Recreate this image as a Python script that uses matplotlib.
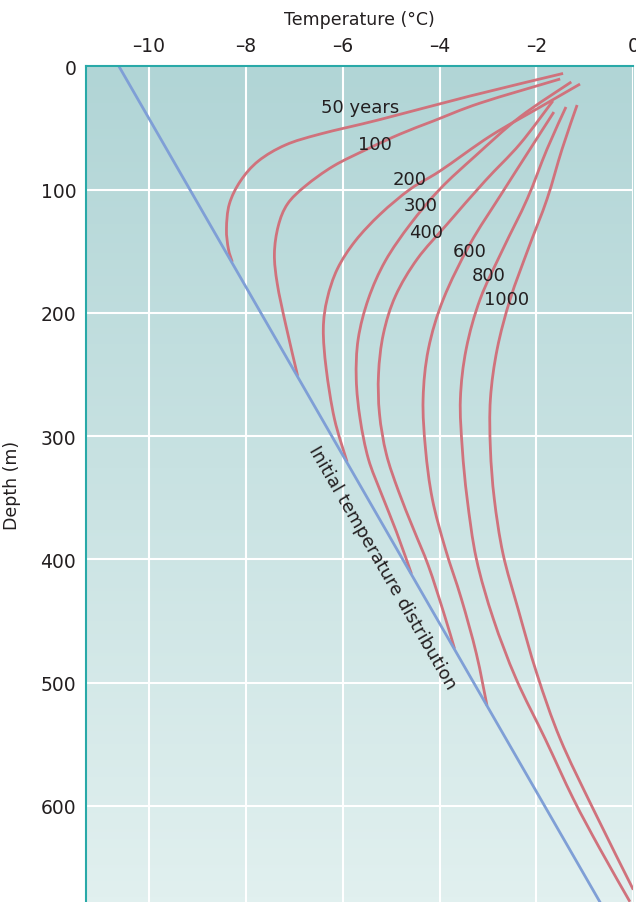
#!/usr/bin/env python3
#
# Temperature-depth profiles after surface warming
#
import numpy as np
import matplotlib.pyplot as plt
from matplotlib.colors import LinearSegmentedColormap
from matplotlib.path import Path
from matplotlib.patches import PathPatch

# Initial (undisturbed) temperature distribution: straight line
init_temp = [-10.62, -0.66]
init_depth = [0, 680]

# Axis ticks
xticks = [-10, -8, -6, -4, -2, 0]
yticks = [0, 100, 200, 300, 400, 500, 600]

# Profiles after N years (temperature in C, depth in m)
years = ['50 years', '100', '200', '300', '400', '600', '800', '1000']

temp_50 = [-1.45, -3.37, -5.22, -6.46, -7.18, -7.74, -8.11, -8.34, -8.40,
           -8.36, -8.28]
depth_50 = [5.8, 24.1, 43.1, 54.9, 63.8, 76.8, 93.0, 111.7, 132.0, 148.2,
            158.7]

temp_100 = [-1.51, -3.16, -4.13, -4.81, -5.49, -6.19, -6.77, -7.14, -7.33,
            -7.41, -7.35, -7.18, -6.93]
depth_100 = [10.3, 29.8, 44.4, 54.9, 67.1, 80.9, 97.1, 111.7, 129.5, 152.2,
             176.6, 209.0, 251.2]

temp_200 = [-1.10, -1.92, -2.95, -3.99, -4.60, -5.22, -5.74, -6.11, -6.32,
            -6.40, -6.34, -6.17, -5.91]
depth_200 = [14.4, 33.0, 56.5, 84.9, 99.5, 119.8, 141.7, 164.4, 188.7,
             213.1, 245.5, 286.1, 320.9]

temp_300 = [-1.28, -2.34, -3.26, -3.99, -4.60, -5.12, -5.47, -5.68, -5.72,
            -5.64, -5.47, -5.20, -4.89, -4.58]
depth_300 = [12.7, 41.1, 72.7, 99.5, 127.9, 157.9, 188.7, 221.2, 253.6,
             286.1, 318.5, 346.9, 377.7, 411.8]

temp_400 = [-1.66, -2.34, -3.06, -3.84, -4.46, -4.91, -5.16, -5.26, -5.24,
            -5.10, -4.85, -4.54, -4.23, -3.92, -3.69]
depth_400 = [28.1, 63.0, 93.0, 127.9, 156.3, 186.3, 217.1, 249.6, 282.0,
             314.4, 344.4, 375.3, 405.3, 442.6, 472.6]

temp_600 = [-1.64, -2.13, -2.75, -3.37, -3.92, -4.23, -4.34, -4.29, -4.15,
            -3.88, -3.55, -3.24, -3.02]
depth_600 = [37.1, 67.1, 105.2, 144.1, 188.7, 229.3, 269.8, 310.4, 350.9,
             391.5, 432.0, 476.6, 518.8]

temp_800 = [-1.39, -1.78, -2.19, -2.69, -3.16, -3.45, -3.57, -3.53, -3.43,
            -3.24, -2.89, -2.42, -1.82, -1.24, -0.69, -0.07]
depth_800 = [33.0, 67.1, 107.6, 148.2, 188.7, 229.3, 269.8, 310.4, 350.9,
             399.6, 448.3, 496.9, 545.6, 594.2, 634.8, 677.8]

temp_1000 = [-1.16, -1.47, -1.78, -2.17, -2.54, -2.81, -2.95, -2.95, -2.87,
             -2.69, -2.38, -1.99, -1.51, -0.83, 0.0]
depth_1000 = [31.4, 67.1, 107.6, 148.2, 188.7, 229.3, 269.8, 310.4, 350.9,
              395.5, 440.1, 492.9, 545.6, 602.4, 668.0]

# Label positions (temperature, depth)
label_temp = [-5.64, -5.33, -4.61, -4.40, -4.28, -3.37, -2.99, -2.61]
label_depth = [33.0, 63.0, 91.4, 112.5, 134.4, 149.6, 169.3, 188.7]

profiles = [(temp_50, depth_50), (temp_100, depth_100),
            (temp_200, depth_200), (temp_300, depth_300),
            (temp_400, depth_400), (temp_600, depth_600),
            (temp_800, depth_800), (temp_1000, depth_1000)]

red = '#d0727c'
blue = '#7f9fd6'
teal = '#29a9a8'
ink = '#231f20'

plt.rcParams['font.family'] = ['DejaVu Sans']


def smooth_path(x, y):
    """ Smooth (Catmull-Rom style) Bezier path through the read points """
    p = np.column_stack([x, y])
    ext = np.vstack([p[0], p, p[-1]])
    verts = [p[0]]
    codes = [Path.MOVETO]
    for i in range(1, len(ext) - 2):
        p0, p1, p2, p3 = ext[i - 1], ext[i], ext[i + 1], ext[i + 2]
        verts += [p1 + (p2 - p0) / 6, p2 - (p3 - p1) / 6, p2]
        codes += [Path.CURVE4] * 3
    return Path(verts, codes)


#
# Create figure
#
fig = plt.figure(figsize=(6.36, 9.03), dpi=100)
ax = fig.add_axes([86 / 636, 0, (633.3 - 86) / 636, (903 - 67.3) / 903])

# Background gradient
cmap = LinearSegmentedColormap.from_list('bg', ['#b1d5d6', '#e1f0ef'])
grad = np.linspace(0, 1, 256).reshape(-1, 1)
ax.imshow(grad, cmap=cmap, aspect='auto', extent=(-11.3, 0, 678, 0),
          zorder=0, interpolation='bilinear')
ax.set_xlim(-11.3, 0)
ax.set_ylim(678, 0)

# Grid
ax.set_xticks(xticks)
ax.set_xticklabels([f'{v:g}'.replace('-', '\u2013') for v in xticks])
ax.set_yticks(yticks)
ax.grid(True, color='white', lw=1.5)
for gl in ax.get_xgridlines() + ax.get_ygridlines():
    gl.set_zorder(1)

# Spines
for s in ['right', 'bottom']:
    ax.spines[s].set_visible(False)
for s in ['left', 'top']:
    ax.spines[s].set_color(teal)
    ax.spines[s].set_linewidth(1.5)
    ax.spines[s].set_zorder(5)

ax.xaxis.tick_top()
ax.xaxis.set_label_position('top')
ax.tick_params(axis='x', length=0, pad=8, labelsize=13.5, colors=ink)
ax.tick_params(axis='y', length=0, pad=7, labelsize=13.5, colors=ink)
ax.set_xlabel('Temperature (°C)', fontsize=12.5, color=ink, labelpad=9)
ax.set_ylabel('Depth (m)', fontsize=12.5, color=ink, labelpad=14)

# Curves
ax.plot(init_temp, init_depth, color=blue, lw=2.0, zorder=3,
        solid_capstyle='butt')
for t, d in profiles:
    ax.add_patch(PathPatch(smooth_path(t, d), fill=False, edgecolor=red,
                           lw=2.0, zorder=2, joinstyle='round'))

for name, t, d in zip(years, label_temp, label_depth):
    ax.text(t, d, name, ha='center', va='center', fontsize=13, color=ink,
            zorder=6)

ax.text(-5.18, 406, 'Initial temperature distribution', rotation=-60,
        rotation_mode='anchor', ha='center', va='center', fontsize=13,
        color=ink, zorder=6)

fig.savefig('out.png', dpi=100)
